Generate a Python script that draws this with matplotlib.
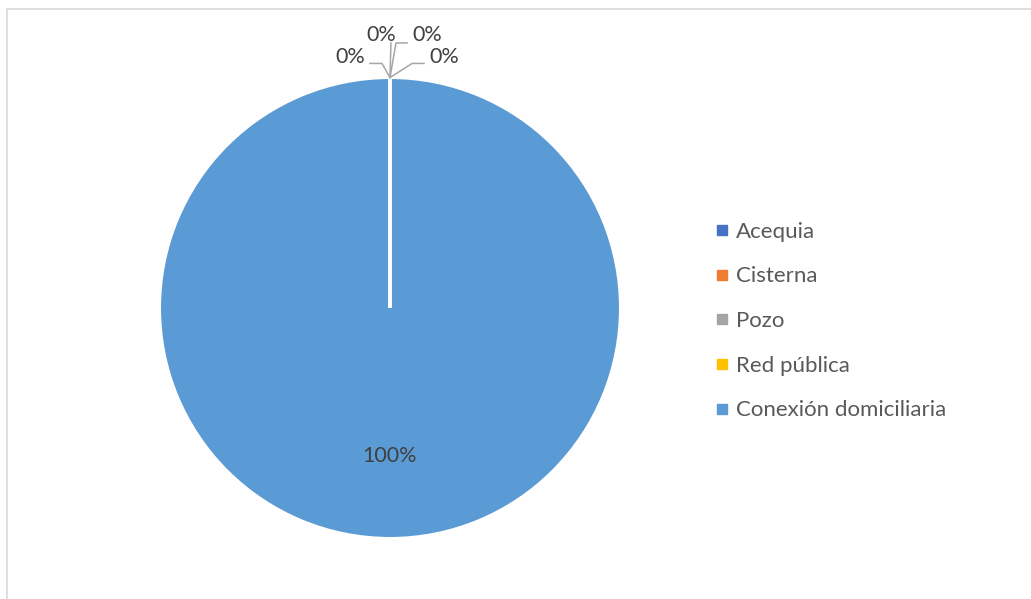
import matplotlib.pyplot as plt
import numpy as np
from matplotlib.lines import Line2D
from matplotlib.patches import Rectangle

categories = ['Acequia', 'Cisterna', 'Pozo', 'Red pública', 'Conexión domiciliaria']
values = [0, 0, 0, 0, 100]
colors = ['#4472C4', '#ED7D31', '#A5A5A5', '#FFC000', '#5B9BD5']

# where the labels of the empty slices sit (label centre, leader path), pie radius = 1
zero_label_pos = [(-0.174, 1.087), (-0.039, 1.183), (0.162, 1.183), (0.235, 1.087)]
zero_leaders = [
    [(-0.087, 1.061), (-0.035, 1.061), (0.0, 1.0)],
    [(0.004, 1.150), (0.0, 1.0)],
    [(0.074, 1.150), (0.026, 1.150), (0.0, 1.0)],
    [(0.148, 1.061), (0.096, 1.061), (0.0, 1.0)],
]

plt.rcParams['font.family'] = ['Lato', 'DejaVu Sans']

W, H = 1031, 599
fig = plt.figure(figsize=(W / 100, H / 100), dpi=100)
ax = fig.add_axes([0, 0, 1, 1])
cx, cy, r = 390, 308, 230.5

wedges, _ = ax.pie(values, colors=colors, startangle=90, counterclock=False,
                   radius=1, frame=True,
                   wedgeprops=dict(edgecolor='white', linewidth=2.2))
ax.set_xlim(-cx / r, (W - cx) / r)
ax.set_ylim(-(H - cy) / r, cy / r)
ax.axis('off')

# empty slices collapse to a radial white line; keep it above the full slice
total = sum(values)
zi = 0
for w, v in zip(wedges, values):
    pct = 100 * v / total
    if v == 0:
        w.set_zorder(3)
        lx, ly = zero_label_pos[zi]
        ax.text(lx, ly, f'{pct:.0f}%', ha='center', va='center',
                fontsize=15.5, color='#404040', zorder=5)
        path = np.array(zero_leaders[zi])
        ax.plot(path[:, 0], path[:, 1], color='#A6A6A6', lw=1.1, zorder=4)
        zi += 1
    else:
        mid = np.deg2rad((w.theta1 + w.theta2) / 2)
        ax.text(0.64 * np.cos(mid), 0.64 * np.sin(mid), f'{pct:.0f}%',
                ha='center', va='center', fontsize=15.5, color='#404040', zorder=5)

handles = [Line2D([], [], marker='s', linestyle='none', markersize=6.5,
                  markerfacecolor=c, markeredgecolor=c) for c in colors]
ax.legend(handles, categories, loc='center left', bbox_to_anchor=(705 / W, 1 - 321 / H),
          bbox_transform=fig.transFigure, frameon=False, fontsize=16,
          labelcolor='#595959', handlelength=0.55, handletextpad=0.35,
          labelspacing=1.11, borderpad=0)

# chart area border
fig.patches.append(Rectangle((7 / W, -0.1), 1.2, 1 - 9 / H + 0.1, transform=fig.transFigure,
                             fill=False, edgecolor='#D9D9D9', linewidth=1.2))

fig.savefig('out.png', dpi=100)
